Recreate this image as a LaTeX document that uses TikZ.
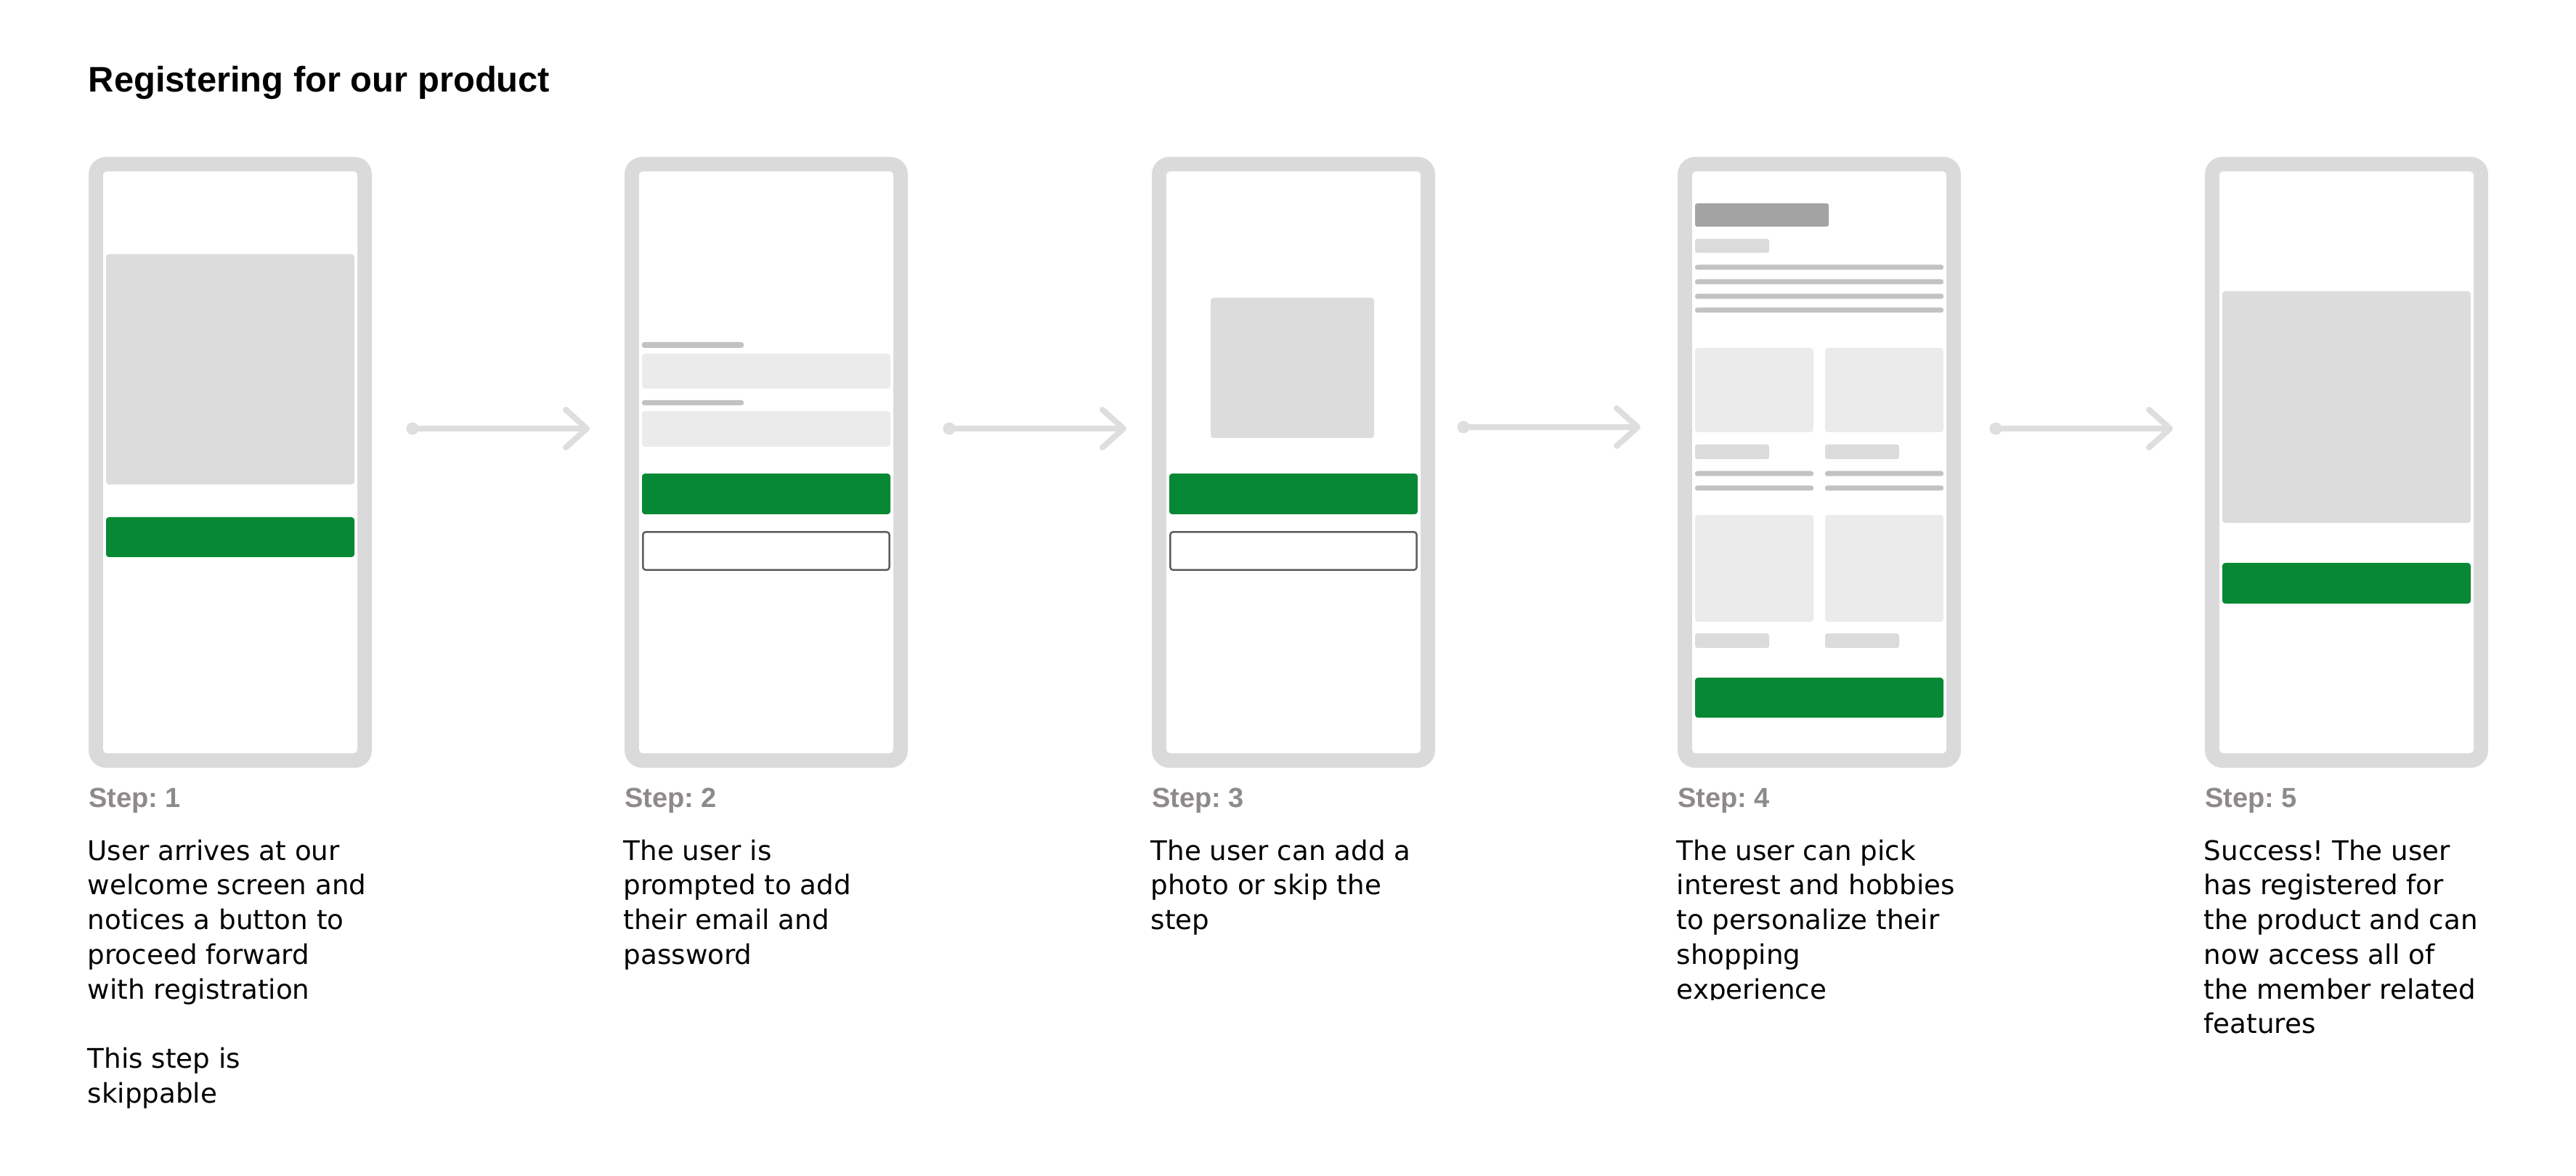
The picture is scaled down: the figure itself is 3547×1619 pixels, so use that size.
\documentclass[tikz,border=0pt]{standalone}
\usepackage{fontspec}
\usetikzlibrary{arrows.meta}

\newfontfamily\headfont{Liberation Sans}
\newfontfamily\bodyfont{DejaVu Sans}
\frenchspacing

\definecolor{phoneframe}{HTML}{DADADA}
\definecolor{imgfill}{HTML}{DCDCDC}
\definecolor{fieldfill}{HTML}{EBEBEB}
\definecolor{barfill}{HTML}{C2C2C2}
\definecolor{darkbar}{HTML}{A3A3A3}
\definecolor{lightbar}{HTML}{DBDBDB}
\definecolor{btngreen}{HTML}{078834}
\definecolor{outlinegray}{HTML}{5F5F5F}
\definecolor{arrowgray}{HTML}{DEDEDE}
\definecolor{stepgray}{HTML}{8E8A8A}

% one line of a description block
\newcommand\txtline[1]{\hbox{#1}}
\newcommand\bodyblock[1]{\vtop{\bodyfont\fontsize{10.6pt}{13.59pt}\selectfont #1}}

\tikzset{
  phone/.style={rectangle, fill=phoneframe, rounded corners=2.4mm,
    minimum width=39mm, minimum height=84.1mm, inner sep=0pt},
  screen/.style={rectangle, fill=white, rounded corners=0.5mm,
    minimum width=35mm, minimum height=80.1mm, inner sep=0pt},
  imgbox/.style={fill=imgfill, rounded corners=0.4mm},
  field/.style={fill=fieldfill, rounded corners=0.4mm},
  bar/.style={fill=barfill, rounded corners=0.3mm},
  titlebar/.style={fill=darkbar, rounded corners=0.3mm},
  labelbar/.style={fill=lightbar, rounded corners=0.3mm},
  greenbtn/.style={fill=btngreen, rounded corners=0.4mm},
  ghostbtn/.style={draw=outlinegray, line width=0.25mm, fill=white, rounded corners=0.4mm},
  flow/.style={draw=arrowgray, line width=0.8mm, line cap=round,
    -{Straight Barb[round, length=2.9mm, width=5.2mm]}},
  flowdot/.style={fill=arrowgray},
  heading/.style={anchor=base west, inner sep=0pt,
    font=\headfont\bfseries\fontsize{13.91pt}{16pt}\selectfont},
  steplabel/.style={anchor=base west, inner sep=0pt, text=stepgray,
    font=\headfont\bfseries\fontsize{10.81pt}{13pt}\selectfont},
  desc/.style={anchor=base west, inner sep=0pt, text=black},
}

\begin{document}
\begin{tikzpicture}[x=0.1mm, y=-0.1mm]
\fill[white] (0,0) rectangle (3547,1619);
\useasboundingbox (0,0) rectangle (3547,1619);

% heading
\node[heading] (title) at (121,127) {Registering for our product};

% phone frames and screens
\foreach \i/\X in {1/122, 2/860, 3/1586, 4/2310, 5/3036} {
  \node[phone] (phone\i) at (\X+195, 636.5) {};
  \node[screen] (screen\i) at (phone\i) {};
}

% screen 1: welcome
\begin{scope}[shift={(122,0)}]
  \fill[imgbox] (24,350) rectangle (366,667);
  \fill[greenbtn] (24,712) rectangle (366,767);
\end{scope}

% screen 2: email and password
\begin{scope}[shift={(860,0)}]
  \fill[bar] (24,471) rectangle (164,479);
  \fill[field] (24,487) rectangle (366,535);
  \fill[bar] (24,551) rectangle (164,558);
  \fill[field] (24,566) rectangle (366,615);
  \fill[greenbtn] (24,652) rectangle (366,708);
  \draw[ghostbtn] (25.3,732.3) rectangle (364.7,784.7);
\end{scope}

% screen 3: photo
\begin{scope}[shift={(1586,0)}]
  \fill[imgbox] (81,410) rectangle (306,603);
  \fill[greenbtn] (24,652) rectangle (366,708);
  \draw[ghostbtn] (25.3,732.3) rectangle (364.7,784.7);
\end{scope}

% screen 4: interests
\begin{scope}[shift={(2310,0)}]
  \fill[titlebar] (24,280) rectangle (208,312);
  \fill[labelbar] (24,329) rectangle (126,348);
  \foreach \yy in {368,388,408,427}
    \fill[bar] (24,\yy-3.5) rectangle (366,\yy+3.5);
  \fill[field] (24,479) rectangle (187,595);
  \fill[field] (203,479) rectangle (366,595);
  \fill[labelbar] (24,612) rectangle (126,632);
  \fill[labelbar] (203,612) rectangle (305,632);
  \foreach \yy in {652,672} {
    \fill[bar] (24,\yy-3.5) rectangle (187,\yy+3.5);
    \fill[bar] (203,\yy-3.5) rectangle (366,\yy+3.5);
  }
  \fill[field] (24,709) rectangle (187,856);
  \fill[field] (203,709) rectangle (366,856);
  \fill[labelbar] (24,872) rectangle (126,892);
  \fill[labelbar] (203,872) rectangle (305,892);
  \fill[greenbtn] (24,933) rectangle (366,988);
\end{scope}

% screen 5: success
\begin{scope}[shift={(3036,0)}]
  \fill[imgbox] (24,401) rectangle (366,720);
  \fill[greenbtn] (24,775) rectangle (366,831);
\end{scope}

% flow arrows between the screens
\coordinate (a1s) at (568,590);  \coordinate (a1e) at (812,590);
\coordinate (a2s) at (1307,590); \coordinate (a2e) at (1551,590);
\coordinate (a3s) at (2015,588); \coordinate (a3e) at (2259,588);
\coordinate (a4s) at (2748,590); \coordinate (a4e) at (2992,590);
\foreach \k in {1,2,3,4} {
  \draw[flow] (a\k s) -- (a\k e);
  \fill[flowdot] (a\k s) circle (0.85mm);
}

% step labels
\node[steplabel] (step1) at (121.5,1112) {Step: 1};
\node[steplabel] (step2) at (859.5,1112) {Step: 2};
\node[steplabel] (step3) at (1585.5,1112) {Step: 3};
\node[steplabel] (step4) at (2309.5,1112) {Step: 4};
\node[steplabel] (step5) at (3035.5,1112) {Step: 5};

% descriptions
\node[desc] (desc1) at (120,1184) {\bodyblock{%
  \txtline{User arrives at our}
  \txtline{welcome screen and}
  \txtline{notices a button to}
  \txtline{proceed forward}
  \txtline{with registration}
  \txtline{}
  \txtline{This step is}
  \txtline{skippable}}};
\node[desc] (desc2) at (858,1184) {\bodyblock{%
  \txtline{The user is}
  \txtline{prompted to add}
  \txtline{their email and}
  \txtline{password}}};
\node[desc] (desc3) at (1584,1184) {\bodyblock{%
  \txtline{The user can add a}
  \txtline{photo or skip the}
  \txtline{step}}};
\begin{scope}
  \clip (2250,1140) rectangle (2900,1376);
  \node[desc] (desc4) at (2308,1184) {\bodyblock{%
    \txtline{The user can pick}
    \txtline{interest and hobbies}
    \txtline{to personalize their}
    \txtline{shopping}
    \txtline{experience}}};
\end{scope}
\node[desc] (desc5) at (3034,1184) {\bodyblock{%
  \txtline{Success! The user}
  \txtline{has registered for}
  \txtline{the product and can}
  \txtline{now access all of}
  \txtline{the member related}
  \txtline{features}}};
\end{tikzpicture}
\end{document}
